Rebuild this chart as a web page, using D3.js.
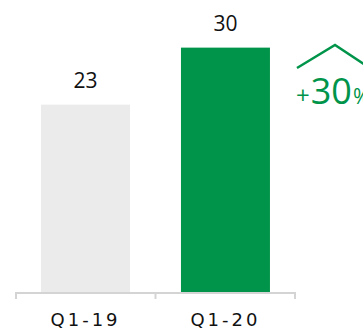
<!DOCTYPE html>
<html>
<head>
<meta charset="utf-8">
<script src="https://cdn.jsdelivr.net/npm/d3@7"></script>
<style>
  body { margin: 0; background: #fff; }
  svg { display: block; }
</style>
</head>
<body>
<div id="chart"></div>
<script>
// data
var categories = ["Q1-19", "Q1-20"];
var values = [23, 30];
var barColors = ["#ebebeb", "#00944a"];
var growthLabel = "30";

var W = 363, H = 329;
var baseY = 292;

var svg = d3.select("#chart").append("svg")
    .attr("width", W)
    .attr("height", H);

var x = d3.scaleBand()
    .domain(categories)
    .range([16, 295])
    .paddingInner(0.364)
    .paddingOuter(0.179);

var y = d3.scaleLinear()
    .domain([0, 30.2])
    .range([baseY, 46]);

// bars
svg.selectAll("rect.bar")
    .data(values).enter().append("rect")
    .attr("class", "bar")
    .attr("x", function(d, i){ return x(categories[i]); })
    .attr("y", function(d){ return y(d); })
    .attr("width", x.bandwidth())
    .attr("height", function(d){ return baseY - y(d); })
    .attr("fill", function(d, i){ return barColors[i]; });

// value labels
svg.selectAll("text.val")
    .data(values).enter().append("text")
    .attr("class", "val")
    .attr("x", function(d, i){ return x(categories[i]) + x.bandwidth() / 2; })
    .attr("y", function(d){ return y(d) - 17; })
    .attr("text-anchor", "middle")
    .attr("font-family", "'Open Sans', sans-serif")
    .attr("font-size", 21)
    .attr("fill", "#111")
    .text(function(d){ return d; });

// axis line + ticks at band edges
var axis = svg.append("g").attr("class", "axis");
var r = x.range();
var gap = x.step() - x.bandwidth();
var tickXs = [r[0], x(categories[0]) + x.bandwidth() + gap / 2, r[1]];

axis.append("line")
    .attr("x1", r[0]).attr("x2", r[1])
    .attr("y1", baseY + 1).attr("y2", baseY + 1)
    .attr("stroke", "#d4d4d4").attr("stroke-width", 2);

axis.selectAll("line.tick")
    .data(tickXs).enter().append("line")
    .attr("class", "tick")
    .attr("x1", function(d){ return d; })
    .attr("x2", function(d){ return d; })
    .attr("y1", baseY).attr("y2", baseY + 7)
    .attr("stroke", "#d4d4d4").attr("stroke-width", 2);

axis.selectAll("text.cat")
    .data(categories).enter().append("text")
    .attr("class", "cat")
    .attr("x", function(d){ return x(d) + x.bandwidth() / 2; })
    .attr("y", 326)
    .attr("text-anchor", "middle")
    .attr("font-family", "'DejaVu Sans', sans-serif")
    .attr("font-size", 18)
    .attr("letter-spacing", 3)
    .attr("fill", "#111")
    .text(function(d){ return d; });

// growth annotation
var green = barColors[1];
svg.append("polyline")
    .attr("points", "297,68 335,45 373,70")
    .attr("fill", "none")
    .attr("stroke", green)
    .attr("stroke-width", 2.5);

var t = svg.append("text")
    .attr("x", 296)
    .attr("y", 104)
    .attr("font-family", "'Open Sans', sans-serif")
    .attr("fill", green);
t.append("tspan").attr("font-size", 24).text("+");
t.append("tspan").attr("font-size", 36).attr("dx", 1).text(growthLabel);
t.append("tspan").attr("font-size", 21).attr("dx", 1).text("%");
</script>
</body>
</html>
